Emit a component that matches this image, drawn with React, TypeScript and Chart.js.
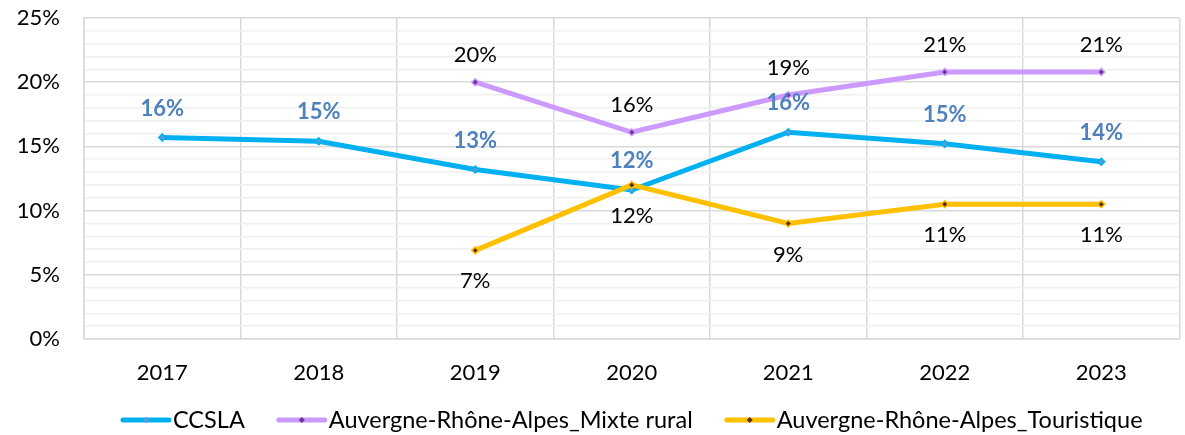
import { useEffect, useRef } from 'react';
import { Chart, registerables } from 'chart.js';

Chart.register(...registerables);

const years = ['2017', '2018', '2019', '2020', '2021', '2022', '2023'];
const ccsla = [15.7, 15.4, 13.2, 11.6, 16.1, 15.2, 13.8];
const mixteRural = [null, null, 20.0, 16.1, 19.0, 20.8, 20.8];
const touristique = [null, null, 6.9, 12.0, 9.0, 10.5, 10.5];
const seriesNames = ['CCSLA', 'Auvergne-Rhône-Alpes_Mixte rural', 'Auvergne-Rhône-Alpes_Touristique'];
const lineColors = ['#00B0F0', '#CC99FF', '#FFC000'];
const markerColors = ['#5B9BD5', '#7030A0', '#5A2D0C'];
const labelColors = ['#4F81BD', '#000000', '#000000'];
const labelWeights = ['bold', 'normal', 'normal'];
const labelOffsets = [-29, -27, 31];

const FONT = 'Lato, "Noto Sans", sans-serif';
const FS = 22;
const LEGEND_FS = 23.5;

function drawLegendSample(g: CanvasRenderingContext2D, x: number, y: number, line: string, marker: string) {
  g.save();
  g.strokeStyle = line;
  g.lineWidth = 5;
  g.lineCap = 'round';
  g.beginPath();
  g.moveTo(x + 2, y);
  g.lineTo(x + 48, y);
  g.stroke();
  g.fillStyle = marker;
  g.beginPath();
  g.moveTo(x + 25, y - 3);
  g.lineTo(x + 28, y);
  g.lineTo(x + 25, y + 3);
  g.lineTo(x + 22, y);
  g.closePath();
  g.fill();
  g.restore();
}

const valueLabels = {
  id: 'valueLabels',
  afterDatasetsDraw(chart: any) {
    const ctx = chart.ctx;
    chart.data.datasets.forEach((ds: any, di: number) => {
      const meta = chart.getDatasetMeta(di);
      meta.data.forEach((pt: any, i: number) => {
        const v = ds.data[i];
        if (v == null) return;
        ctx.save();
        ctx.font = `${labelWeights[di]} ${FS}px ${FONT}`;
        ctx.fillStyle = labelColors[di];
        ctx.textAlign = 'center';
        ctx.textBaseline = 'middle';
        ctx.fillText(Math.round(v) + '%', pt.x, pt.y + labelOffsets[di]);
        ctx.restore();
      });
    });
  },
};

const customLegend = {
  id: 'customLegend',
  afterDraw(chart: any) {
    const ctx = chart.ctx;
    ctx.save();
    ctx.font = `${LEGEND_FS}px ${FONT}`;
    ctx.textBaseline = 'middle';
    ctx.textAlign = 'left';
    ctx.fillStyle = '#000';
    const y = chart.height - 15;
    let x = 121;
    chart.data.datasets.forEach((ds: any, i: number) => {
      drawLegendSample(ctx, x, y, lineColors[i], markerColors[i]);
      x += 52;
      ctx.fillText(ds.label, x, y);
      x += ctx.measureText(ds.label).width + 32;
    });
    ctx.restore();
  },
};

export default function App() {
  const ref = useRef<HTMLCanvasElement>(null);

  useEffect(() => {
    const dataArrays = [ccsla, mixteRural, touristique];
    const orders = [1, 2, 0];
    const chart = new Chart(ref.current!, {
      type: 'line',
      data: {
        labels: years,
        datasets: dataArrays.map((d, i) => ({
          label: seriesNames[i],
          data: d,
          borderColor: lineColors[i],
          backgroundColor: lineColors[i],
          borderWidth: 5,
          pointStyle: 'rectRot',
          pointRadius: 3.5,
          pointBackgroundColor: markerColors[i],
          pointBorderColor: lineColors[i],
          pointBorderWidth: 1.5,
          tension: 0,
          spanGaps: false,
          order: orders[i],
        })),
      },
      options: {
        animation: false,
        responsive: false,
        layout: { padding: { top: 18, right: 2, left: 0, bottom: 36 } },
        plugins: {
          tooltip: { enabled: false },
          legend: { display: false },
        },
        scales: {
          x: {
            offset: true,
            grid: { offset: true, color: '#D9D9D9', lineWidth: 1.5, drawTicks: false },
            border: { display: true, color: '#D9D9D9', width: 1.5 },
            ticks: { color: '#000', font: { family: FONT, size: FS }, padding: 21 },
            afterFit: (s: any) => {
              s.height = 60;
              s.paddingLeft = 0;
              s.paddingRight = 0;
            },
          },
          y: {
            min: 0,
            max: 25,
            grid: {
              color: (c: any) => (Math.round(c.tick.value) % 5 === 0 ? '#D9D9D9' : '#F0F0F0'),
              lineWidth: 1.5,
              drawTicks: false,
            },
            border: { display: true, color: '#D9D9D9', width: 1.5 },
            ticks: {
              stepSize: 1,
              autoSkip: false,
              color: '#000',
              font: { family: FONT, size: FS },
              padding: 24,
              callback: (v: any) => (Math.round(v) % 5 === 0 ? Math.round(v) + '%' : ''),
            },
            afterFit: (s: any) => {
              s.width = 84;
              s.paddingTop = 0;
              s.paddingBottom = 0;
            },
          },
        },
      },
      plugins: [valueLabels, customLegend],
    });
    return () => chart.destroy();
  }, []);

  return (
    <div style={{ position: 'fixed', left: 0, top: 0, width: 1185, height: 435, background: '#fff' }}>
      <canvas ref={ref} width={1185} height={435} />
    </div>
  );
}
